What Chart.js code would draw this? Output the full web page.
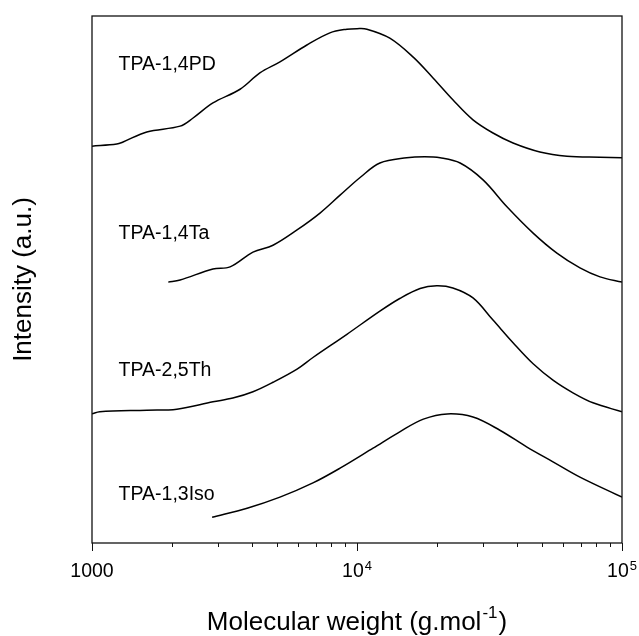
<!DOCTYPE html>
<html>
<head>
<meta charset="utf-8">
<script src="https://cdn.jsdelivr.net/npm/chart.js@4.4.1/dist/chart.umd.min.js"></script>
<style>
  html, body { margin: 0; padding: 0; background: #fff; }
  canvas { display: block; }
</style>
</head>
<body>
<canvas id="myChart" width="639" height="636"></canvas>
<script>
// molecular weight (g/mol) and intensity (a.u., curves stacked with offsets)
const pdMw = [1000, 1240, 1310, 1610, 2150, 2400, 2860, 3620, 4300, 5120, 6470, 7900, 9160, 10000, 10900, 13300, 16300, 19400, 23000, 27400, 32600, 38800, 49000, 62000, 82600, 100000];
const pdI  = [75.3, 75.7, 76.1, 78.0, 79.1, 80.6, 83.5, 86.1, 89.2, 91.3, 94.5, 96.8, 97.5, 97.6, 97.5, 95.8, 92.2, 88.2, 84.1, 80.3, 77.8, 75.9, 74.2, 73.4, 73.2, 73.1];

const taMw = [1940, 2150, 2860, 3320, 4050, 4820, 5940, 7250, 8630, 10300, 12200, 15400, 18000, 20600, 24500, 29900, 36800, 46200, 56800, 69400, 82600, 100000];
const taI  = [49.5, 49.9, 52.0, 52.4, 55.2, 56.5, 59.4, 62.6, 66.0, 69.4, 72.1, 73.1, 73.3, 73.1, 72.1, 68.9, 63.8, 58.8, 55.0, 52.2, 50.5, 49.5];

const thMw = [1000, 1070, 1610, 2090, 2860, 3400, 4050, 4820, 5940, 6820, 9160, 12200, 14500, 17300, 20000, 23000, 27400, 32600, 38800, 46200, 54900, 65300, 77700, 100000];
const thI  = [24.5, 24.9, 25.2, 25.4, 26.8, 27.5, 28.7, 30.5, 33.0, 35.2, 39.6, 44.0, 46.4, 48.3, 48.8, 48.4, 46.5, 42.3, 38.0, 34.0, 30.9, 28.5, 26.6, 24.9];

const isoMw = [2840, 3850, 5120, 6820, 8630, 11500, 14500, 17800, 21900, 27400, 34600, 43800, 54900, 69400, 100000];
const isoI  = [4.9, 6.6, 8.7, 11.4, 14.2, 18.0, 21.1, 23.5, 24.5, 23.9, 21.4, 18.2, 15.4, 12.5, 8.7];

const seriesNames = ['TPA-1,4PD', 'TPA-1,4Ta', 'TPA-2,5Th', 'TPA-1,3Iso'];
// where each name sits (data coords: Mw, intensity)
const nameMw = [1260, 1260, 1260, 1260];
const nameI  = [89.8, 57.6, 31.6, 8.2];

const xTickValues = [1000, 10000, 100000];
const xTickBase = ['1000', '10', '10'];
const xTickExp  = ['', '4', '5'];

const FONT = '"Liberation Sans", Arial, Helvetica, sans-serif';
Chart.defaults.font.family = FONT;
Chart.defaults.color = '#000';

function pairs(xs, ys) {
    return xs.map(function (v, i) { return { x: v, y: ys[i] }; });
}

function line(data) {
    return {
        data: data,
        borderColor: '#000',
        borderWidth: 1.5,
        pointRadius: 0,
        fill: false,
        tension: 0.35
    };
}

// frame, log ticks, tick labels, x title and curve names
const decorPlugin = {
    id: 'decor',
    afterDraw(chart) {
        const ctx = chart.ctx;
        const a = chart.chartArea;
        const x = chart.scales.x;
        const y = chart.scales.y;
        ctx.save();
        ctx.strokeStyle = '#111';
        ctx.lineWidth = 1.3;
        ctx.strokeRect(a.left, a.top, a.right - a.left, a.bottom - a.top);

        ctx.lineWidth = 1;
        for (let d = 1000; d <= 100000; d *= 10) {
            for (let m = 1; m <= 9; m++) {
                const v = d * m;
                if (v > 100000) break;
                const px = Math.round(x.getPixelForValue(v)) + 0.5;
                const len = m === 1 ? 8 : 4;
                ctx.beginPath();
                ctx.moveTo(px, a.bottom);
                ctx.lineTo(px, a.bottom + len);
                ctx.stroke();
            }
        }

        ctx.fillStyle = '#000';
        ctx.textBaseline = 'alphabetic';
        ctx.textAlign = 'left';
        xTickValues.forEach(function (v, i) {
            ctx.font = '19.5px ' + FONT;
            const wb = ctx.measureText(xTickBase[i]).width;
            ctx.font = '13px ' + FONT;
            const we = xTickExp[i] ? ctx.measureText(xTickExp[i]).width + 1 : 0;
            const left = x.getPixelForValue(v) - (wb + we) / 2;
            ctx.font = '19.5px ' + FONT;
            ctx.fillText(xTickBase[i], left, 577);
            if (xTickExp[i]) {
                ctx.font = '13px ' + FONT;
                ctx.fillText(xTickExp[i], left + wb + 1, 570);
            }
        });

        // x axis title with superscript
        const t1 = 'Molecular weight (g.mol', t2 = '-1', t3 = ')';
        ctx.font = '26px ' + FONT;
        const w1 = ctx.measureText(t1).width;
        const w3 = ctx.measureText(t3).width;
        ctx.font = '17px ' + FONT;
        const w2 = ctx.measureText(t2).width;
        let tx = (a.left + a.right) / 2 - (w1 + w2 + w3 + 2) / 2;
        ctx.font = '26px ' + FONT;
        ctx.fillText(t1, tx, 629.5);
        ctx.font = '17px ' + FONT;
        ctx.fillText(t2, tx + w1 + 1, 617.5);
        ctx.font = '26px ' + FONT;
        ctx.fillText(t3, tx + w1 + w2 + 2, 629.5);

        ctx.font = '19.5px ' + FONT;
        seriesNames.forEach(function (n, i) {
            ctx.fillText(n, x.getPixelForValue(nameMw[i]), y.getPixelForValue(nameI[i]));
        });
        ctx.restore();
    }
};

const config = {
    type: 'line',
    data: {
        datasets: [
            line(pairs(pdMw, pdI)),
            line(pairs(taMw, taI)),
            line(pairs(thMw, thI)),
            line(pairs(isoMw, isoI))
        ]
    },
    options: {
        responsive: false,
        animation: false,
        devicePixelRatio: 1,
        layout: { padding: { top: 16, right: 17, left: 0, bottom: 0 } },
        plugins: {
            legend: { display: false },
            tooltip: { enabled: false }
        },
        scales: {
            x: {
                type: 'logarithmic',
                min: 1000,
                max: 100000,
                ticks: { display: false },
                grid: { display: false },
                border: { display: false },
                afterFit: function (s) { s.height = 93; }
            },
            y: {
                type: 'linear',
                min: 0,
                max: 100,
                ticks: { display: false },
                grid: { display: false },
                border: { display: false },
                title: {
                    display: true,
                    text: 'Intensity (a.u.)',
                    font: { size: 26 },
                    padding: { top: 8, bottom: 0 }
                },
                afterFit: function (s) { s.width = 92; }
            }
        }
    },
    plugins: [decorPlugin]
};

var myChart = new Chart(document.getElementById('myChart'), config);
</script>
</body>
</html>
